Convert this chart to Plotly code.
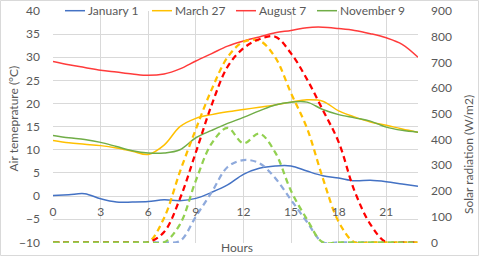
import plotly.graph_objects as go

hours = list(range(24))
x_tick_vals = [0, 3, 6, 9, 12, 15, 18, 21]
series_names = ["January 1", "March 27", "August 7", "November 9"]

# Air temperature (°C), left axis
jan_temp = [0.1, 0.3, 0.5, -0.6, -1.3, -1.3, -1.2, -0.8, -1.0, -0.5, 0.8, 2.4,
            4.7, 6.0, 6.5, 6.5, 5.4, 4.4, 3.9, 3.3, 3.4, 3.1, 2.6, 2.1]
mar_temp = [12.0, 11.5, 11.2, 10.9, 10.4, 9.7, 9.0, 11.0, 15.0, 16.8, 17.6, 18.2,
            18.7, 19.2, 19.7, 20.3, 20.8, 20.5, 18.4, 17.1, 16.0, 15.3, 14.5, 13.8]
aug_temp = [29.1, 28.4, 27.8, 27.2, 26.8, 26.4, 26.1, 26.4, 27.5, 29.2, 30.8, 32.4,
            33.5, 34.4, 35.3, 35.8, 36.4, 36.5, 36.2, 35.8, 35.1, 34.2, 32.8, 30.0]
nov_temp = [13.1, 12.6, 12.2, 11.6, 10.7, 9.8, 9.3, 9.3, 10.0, 12.6, 14.2, 15.7,
            17.0, 18.4, 19.7, 20.3, 20.3, 18.7, 17.6, 16.9, 16.2, 14.9, 14.2, 13.8]

# Solar radiation (W/m2), right axis
jan_rad = [0, 0, 0, 0, 0, 0, 0, 0, 5, 100, 195, 293,
           320, 308, 250, 165, 80, 0, 0, 0, 0, 0, 0, 0]
mar_rad = [0, 0, 0, 0, 0, 0, 0, 95, 275, 440, 595, 720,
           780, 785, 720, 580, 445, 250, 80, 0, 0, 0, 0, 0]
aug_rad = [0, 0, 0, 0, 0, 0, 0, 40, 170, 350, 535, 683,
           755, 790, 800, 735, 635, 515, 390, 200, 70, 0, 0, 0]
nov_rad = [0, 0, 0, 0, 0, 0, 0, 0, 70, 240, 385, 445,
           385, 423, 350, 200, 90, 0, 0, 0, 0, 0, 0, 0]

temp_colors = ["#4472C4", "#FFC000", "#FF3B3B", "#70AD47"]
rad_colors = ["#8FAADC", "#FFC000", "#FF0000", "#92D050"]

FONT = "Lato"
TXT = "#595959"
GRID = "#D9D9D9"
FS = 12

# layout geometry (pixels)
W, H = 480, 257
ML, MR, MT, MB = 53, 62, 11, 14
PW, PH = W - ML - MR, H - MT - MB
Y_LO, Y_HI = -10.15, 40          # slight pad so baseline dashes are not clipped
Y2_HI = 900
Y2_LO = (Y_LO + 10) * (Y2_HI / 50.0)   # keep both vertical scales aligned


def px2x(px):
    return (px - ML) / PW


def py2y(py):
    return (H - MB - py) / PH


fig = go.Figure()
for name, temp, col in zip(series_names, [jan_temp, mar_temp, aug_temp, nov_temp], temp_colors):
    fig.add_trace(go.Scatter(x=hours, y=temp, name=name, mode="lines",
                             line=dict(color=col, width=1.5, shape="spline", smoothing=1),
                             yaxis="y", showlegend=False))
for name, rad, col in zip(series_names, [jan_rad, mar_rad, aug_rad, nov_rad], rad_colors):
    fig.add_trace(go.Scatter(x=hours, y=rad, name=name + " radiation", mode="lines",
                             line=dict(color=col, width=2.25, dash="6px,4px", shape="spline", smoothing=1),
                             yaxis="y2", showlegend=False))

# legend drawn as line samples + labels
leg_line_start = [65, 152, 236, 317]
leg_line_len = 20
shapes = [
    dict(type="rect", xref="paper", yref="paper", x0=px2x(0.5), x1=px2x(W - 1.5),
         y0=py2y(H - 1.5), y1=py2y(0.5), line=dict(color=GRID, width=1), layer="below"),
    dict(type="rect", xref="paper", yref="paper", x0=px2x(58), x1=px2x(416),
         y0=py2y(20), y1=py2y(1), line=dict(width=0), fillcolor="white", layer="between"),
]
annotations = []
for name, col, x0 in zip(series_names, temp_colors, leg_line_start):
    shapes.append(dict(type="line", xref="paper", yref="paper", x0=px2x(x0), x1=px2x(x0 + leg_line_len),
                       y0=py2y(10.7), y1=py2y(10.7), line=dict(color=col, width=1.5), layer="above"))
    annotations.append(dict(text=name, xref="paper", yref="paper", x=px2x(x0 + leg_line_len + 1),
                            y=py2y(10.7), xanchor="left", yanchor="middle", showarrow=False,
                            font=dict(size=FS, color=TXT)))

annotations += [
    dict(text="Hours", xref="paper", yref="paper", x=px2x(237), y=py2y(247.5),
         xanchor="center", yanchor="middle", showarrow=False, font=dict(size=FS, color=TXT)),
    dict(text="Air temeprature (°C)", xref="paper", yref="paper", x=px2x(12.5), y=py2y(119),
         xanchor="center", yanchor="middle", textangle=-90, showarrow=False,
         font=dict(size=FS, color=TXT)),
    dict(text="Solar radiation (W/m2)", xref="paper", yref="paper", x=px2x(468), y=py2y(155),
         xanchor="center", yanchor="middle", textangle=-90, showarrow=False,
         font=dict(size=FS, color=TXT)),
]

fig.update_layout(
    width=W, height=H,
    margin=dict(l=ML, r=MR, t=MT, b=MB, autoexpand=False),
    paper_bgcolor="white", plot_bgcolor="white",
    font=dict(family=FONT, size=FS, color=TXT),
    showlegend=False,
    xaxis=dict(range=[0, 23], tickvals=x_tick_vals, showgrid=True, gridcolor=GRID, gridwidth=1,
               zeroline=False, showline=False, ticks="", anchor="free",
               position=(0 - Y_LO) / (Y_HI - Y_LO),
               ticklabelstandoff=7, tickfont=dict(size=FS, color=TXT)),
    yaxis=dict(range=[Y_LO, Y_HI], tickvals=[-10, -5, 0, 5, 10, 15, 20, 25, 30, 35, 40],
               showgrid=True, gridcolor=GRID, gridwidth=1,
               zeroline=False, showline=False, ticks="", ticklabelstandoff=12,
               tickfont=dict(size=FS, color=TXT)),
    yaxis2=dict(range=[Y2_LO, Y2_HI], tickvals=[0, 100, 200, 300, 400, 500, 600, 700, 800, 900],
                overlaying="y", side="right", showgrid=False,
                zeroline=False, showline=False, ticks="", ticklabelstandoff=12,
                tickfont=dict(size=FS, color=TXT)),
    annotations=annotations,
    shapes=shapes,
)

fig.write_html("out.html",
               config={"displayModeBar": False},
               post_script="document.body.style.margin='0';document.body.style.overflow='hidden';")
